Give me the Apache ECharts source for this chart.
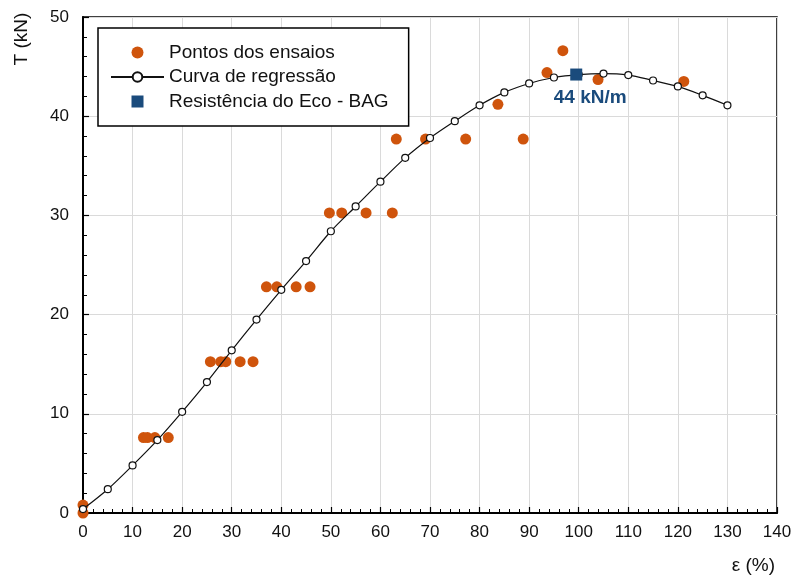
<!DOCTYPE html>
<html>
<head>
<meta charset="utf-8">
<script src="https://cdn.jsdelivr.net/npm/echarts@6/dist/echarts.min.js"></script>
<style>html,body{margin:0;padding:0;background:#fff;}#c{width:798px;height:577px;}</style>
</head>
<body>
<div id="c"></div>
<script>
// Test points (ε %, T kN)
var testX = [0, 0, 12.2, 13.0, 14.5, 17.2, 25.7, 27.8, 28.8, 31.7, 34.3, 37.0, 39.1, 43.0, 45.8, 49.7, 52.2, 57.1, 62.4, 63.2, 69.1, 77.2, 88.8, 83.7, 93.6, 96.8, 103.9, 121.2];
var testT = [0.8, 0, 7.6, 7.6, 7.6, 7.6, 15.25, 15.25, 15.25, 15.25, 15.25, 22.8, 22.8, 22.8, 22.8, 30.25, 30.25, 30.25, 30.25, 37.7, 37.7, 37.7, 37.7, 41.2, 44.4, 46.6, 43.7, 43.5];
// Regression curve
var curveX = [0, 5, 10, 15, 20, 25, 30, 35, 40, 45, 50, 55, 60, 65, 70, 75, 80, 85, 90, 95, 100, 105, 110, 115, 120, 125, 130];
var curveT = [0.4, 2.4, 4.8, 7.35, 10.2, 13.2, 16.4, 19.5, 22.5, 25.4, 28.4, 30.9, 33.4, 35.8, 37.8, 39.5, 41.1, 42.4, 43.3, 43.9, 44.2, 44.3, 44.15, 43.6, 43.0, 42.1, 41.1];
// Resistance point
var resX = [99.5];
var resT = [44.2];
var resLabel = '44 kN/m';
var seriesNames = ['Pontos dos ensaios', 'Curva de regressão', 'Resistência do Eco - BAG'];
var yTitle = 'T (kN)';
var xTitle = 'ε (%)';

function pairs(xs, ys) { return xs.map(function (x, i) { return [x, ys[i]]; }); }

var font = '"Liberation Sans", Arial, sans-serif';
var chart = echarts.init(document.getElementById('c'));
chart.setOption({
  animation: false,
  backgroundColor: '#fff',
  textStyle: { fontFamily: font },
  grid: { left: 83, right: 21, top: 17, bottom: 64, show: true, borderColor: '#000', borderWidth: 1.5 },
  legend: {
    orient: 'vertical', left: 98, top: 28,
    padding: [15, 20, 15, 12],
    borderColor: '#000', borderWidth: 1.5, backgroundColor: '#fff',
    itemWidth: 53, itemHeight: 12, itemGap: 5.5, symbolKeepAspect: true,
    textStyle: { fontSize: 19, lineHeight: 19, color: '#111', fontFamily: font },
    data: [
      { name: seriesNames[0], icon: 'circle' },
      { name: seriesNames[1] },
      { name: seriesNames[2], icon: 'path://M0,0L10,0L10,10L0,10Z' }
    ]
  },
  graphic: [{
    type: 'text', x: 22, y: 39, rotation: Math.PI / 2,
    style: { text: yTitle, fontSize: 19, fontFamily: font, fill: '#111', align: 'center', verticalAlign: 'middle' }
  }],
  xAxis: {
    type: 'value', min: 0, max: 140, interval: 10,
    name: xTitle, nameLocation: 'end', nameGap: 0,
    nameTextStyle: { fontSize: 19, color: '#111', align: 'right', verticalAlign: 'top', padding: [43, 2, 0, 0] },
    axisLine: { onZero: false, lineStyle: { color: '#000', width: 2 } },
    axisTick: { inside: true, length: 6, lineStyle: { color: '#000', width: 1.2 } },
    minorTick: { show: true, splitNumber: 5, length: 4, lineStyle: { color: '#000', width: 1 } },
    axisLabel: { fontSize: 17, color: '#111', margin: 11 },
    splitLine: { show: true, lineStyle: { color: '#dadada', width: 1 } }
  },
  yAxis: {
    type: 'value', min: 0, max: 50, interval: 10,
    axisLine: { onZero: false, lineStyle: { color: '#000', width: 2 } },
    axisTick: { inside: true, length: 6, lineStyle: { color: '#000', width: 1.2 } },
    minorTick: { show: true, splitNumber: 5, length: 4, lineStyle: { color: '#000', width: 1 } },
    axisLabel: { fontSize: 17, color: '#111', margin: 14 },
    splitLine: { show: true, lineStyle: { color: '#dadada', width: 1 } }
  },
  series: [
    {
      name: seriesNames[0], type: 'scatter', z: 2,
      data: pairs(testX, testT), symbol: 'circle', symbolSize: 11,
      itemStyle: { color: '#cf540c', opacity: 1 }
    },
    {
      name: seriesNames[1], type: 'line', z: 3, smooth: 0.3,
      data: pairs(curveX, curveT), symbol: 'circle', symbolSize: 7, showAllSymbol: true,
      lineStyle: { color: '#111', width: 1.2 },
      itemStyle: { color: '#fff', borderColor: '#111', borderWidth: 1.2 }
    },
    {
      name: seriesNames[2], type: 'scatter', z: 5,
      data: pairs(resX, resT), symbol: 'rect', symbolSize: 12,
      itemStyle: { color: '#1a4b7c', opacity: 1 },
      label: { show: true, formatter: resLabel, position: 'bottom', distance: 8, offset: [14, 0],
               fontSize: 19, fontWeight: 'bold', color: '#1a4b7c', opacity: 1 }
    }
  ]
});
</script>
</body>
</html>
